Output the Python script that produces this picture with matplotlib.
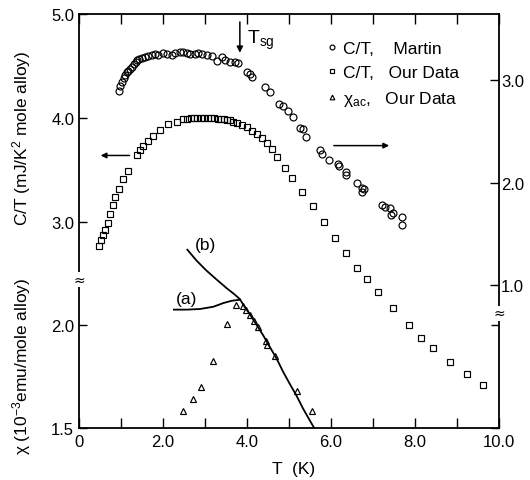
import matplotlib
matplotlib.use("Agg")
import matplotlib.pyplot as plt

plt.rcParams['font.family'] = ['Liberation Sans', 'DejaVu Sans']
plt.rcParams['mathtext.default'] = 'regular'

# C/T, our data (left upper scale)
sq_T = [0.48, 0.52, 0.58, 0.62, 0.68, 0.74, 0.80, 0.86, 0.96, 1.04, 1.16,
        1.37, 1.45, 1.53, 1.65, 1.77, 1.93, 2.13, 2.34, 2.48,
        2.58, 2.66, 2.74, 2.82, 2.90, 2.98, 3.06, 3.14, 3.22, 3.30, 3.38,
        3.46, 3.53, 3.60, 3.67, 3.75, 3.87, 3.99, 4.11, 4.23, 4.35, 4.47,
        4.60, 4.71, 4.90, 5.08, 5.31, 5.56, 5.83, 6.09, 6.36, 6.63, 6.86,
        7.11, 7.48, 7.86, 8.14, 8.43, 8.83, 9.24, 9.62]
sq_ct = [2.77, 2.83, 2.875, 2.92, 2.99, 3.08, 3.16, 3.24, 3.32, 3.41, 3.49,
         3.64, 3.69, 3.73, 3.78, 3.83, 3.885, 3.94, 3.965, 3.99,
         3.995, 4.0, 4.0, 4.0, 4.0, 4.0, 4.0, 4.0, 4.0, 3.995, 3.99,
         3.99, 3.985, 3.98, 3.965, 3.95, 3.93, 3.91, 3.88, 3.845, 3.805, 3.76,
         3.70, 3.625, 3.52, 3.42, 3.29, 3.15, 3.00, 2.85, 2.70, 2.56, 2.45,
         2.33, 2.17, 2.01, 1.89, 1.79, 1.65, 1.54, 1.43]

# C/T, Martin (right scale)
mt_T = [0.96, 0.98, 1.02, 1.06, 1.10, 1.135, 1.17, 1.21, 1.25, 1.31, 1.36,
        1.39, 1.44, 1.49, 1.57, 1.65, 1.73, 1.81, 1.89, 2.01, 2.09, 2.21,
        2.29, 2.40, 2.48, 2.56, 2.64, 2.76, 2.84, 2.92, 3.04, 3.16, 3.28,
        3.40, 3.48, 3.60, 3.71, 3.79, 3.99, 4.07, 4.13, 4.43, 4.55, 4.77,
        4.86, 4.98, 5.09, 5.25, 5.34, 5.40, 5.74, 5.78, 5.96, 6.17, 6.20,
        6.36, 6.36, 6.63, 6.73, 6.79, 6.73, 7.21, 7.29, 7.40, 7.47, 7.42,
        7.68, 7.70]
mt_ct = [2.896, 2.944, 2.98, 3.016, 3.05, 3.075, 3.09, 3.11, 3.13, 3.156,
         3.18, 3.20, 3.205, 3.21, 3.22, 3.23, 3.24, 3.25, 3.24, 3.26, 3.25,
         3.24, 3.26, 3.276, 3.27, 3.26, 3.25, 3.25, 3.26, 3.25, 3.24, 3.23,
         3.19, 3.22, 3.20, 3.18, 3.18, 3.17, 3.075, 3.06, 3.03, 2.93, 2.886,
         2.766, 2.75, 2.70, 2.636, 2.53, 2.52, 2.44, 2.32, 2.28, 2.22, 2.18,
         2.16, 2.10, 2.07, 2.00, 1.95, 1.94, 1.91, 1.78, 1.76, 1.75, 1.70,
         1.68, 1.66, 1.59]

# chi_ac, our data (left lower scale)
tr_T = [2.48, 2.72, 2.90, 3.18, 3.53, 3.74, 3.90, 3.98, 4.07, 4.17, 4.25,
        4.45, 4.48, 4.67, 5.18, 5.54]
tr_chi = [1.584, 1.640, 1.70, 1.823, 2.003, 2.095, 2.092, 2.073, 2.047,
          2.02, 1.99, 1.92, 1.90, 1.85, 1.68, 1.58]

# curves (a) and (b)
a_T = [2.26, 2.56, 2.88, 3.20, 3.44, 3.64, 3.83]
a_chi = [2.073, 2.073, 2.076, 2.087, 2.105, 2.116, 2.121]
b_T = [2.58, 2.80, 3.04, 3.28, 3.52, 3.69, 3.83, 3.95, 4.07, 4.23, 4.39,
       4.55, 4.71, 4.86, 5.02, 5.18, 5.34, 5.50, 5.60]
b_chi = [2.363, 2.31, 2.261, 2.218, 2.176, 2.149, 2.124, 2.084, 2.05,
         1.999, 1.947, 1.89, 1.834, 1.772, 1.713, 1.656, 1.592, 1.535, 1.50]

t_sg = 3.83
x_ticks = list(range(0, 11))
x_labels = ['0', '', '2.0', '', '4.0', '', '6.0', '', '8.0', '', '10.0']

fs = 12.5
tfs = 12
fig = plt.figure(figsize=(5.30, 4.81), dpi=100)
rect = [79 / 530, 1 - 429 / 481, 420 / 530, 414 / 481]

ax = fig.add_axes(rect)
axr = fig.add_axes(rect, sharex=ax)
axc = fig.add_axes(rect, sharex=ax)
for a in (axr, axc):
    a.set_frame_on(False)
    a.patch.set_visible(False)
    a.tick_params(axis='x', which='both', bottom=False, top=False,
                  labelbottom=False, labeltop=False)

mk = dict(linestyle='none', markerfacecolor='none', markeredgecolor='black',
          markeredgewidth=0.85)
h_sq, = ax.plot(sq_T, sq_ct, marker='s', markersize=4.4, **mk)
h_mt, = axr.plot(mt_T, mt_ct, marker='o', markersize=5.0, **mk)
h_tr, = axc.plot(tr_T, tr_chi, marker='^', markersize=4.8, **mk)
axc.plot(a_T, a_chi, color='black', lw=1.3)
axc.plot(b_T, b_chi, color='black', lw=1.3)

ax.set_xlim(0, 10)
ax.set_ylim(1.02, 5.0)
axr.set_ylim(-0.395, 3.644)
axc.set_ylim(1.5, 3.504)

for s in ax.spines.values():
    s.set_linewidth(1.3)

ax.set_xticks(x_ticks)
ax.set_xticklabels(x_labels)
ax.tick_params(axis='x', direction='in', top=True, length=7, width=1,
               labelsize=tfs, pad=4)
ax.set_yticks([3.0, 4.0, 5.0])
ax.set_yticklabels(['3.0', '4.0', '5.0'])
ax.tick_params(axis='y', direction='in', length=6, width=1, labelsize=tfs)

axr.yaxis.tick_right()
axr.set_yticks([1.0, 2.0, 3.0])
axr.set_yticklabels(['1.0', '2.0', '3.0'])
axr.tick_params(axis='y', direction='in', length=6.5, width=1,
                labelsize=tfs, pad=1.5)

axc.set_yticks([1.5, 2.0])
axc.set_yticklabels(['1.5', '2.0'])
axc.yaxis.set_ticks_position('both')
axc.tick_params(axis='y', direction='in', length=6, width=1,
                labelsize=tfs, labelright=False)

# axis breaks
ax.text(0, 0.359, '\u2248', transform=ax.transAxes, ha='center',
        va='center', fontsize=10, family='DejaVu Sans',
        bbox=dict(fc='white', ec='none', pad=0.2))
ax.text(1, 0.277, '\u2248', transform=ax.transAxes, ha='center',
        va='center', fontsize=10, family='DejaVu Sans',
        bbox=dict(fc='white', ec='none', pad=0.2))

# T_sg arrow
ax.annotate('', xy=(t_sg, 4.60), xytext=(t_sg, 4.95),
            arrowprops=dict(arrowstyle='-|>', color='black', lw=1.1,
                            mutation_scale=9))
ax.text(t_sg + 0.17, 4.76, 'T$_{sg}$', fontsize=fs + 1.5, va='center',
        ha='left')

# direction arrows
ax.annotate('', xy=(0.45, 3.64), xytext=(1.27, 3.64),
            arrowprops=dict(arrowstyle='-|>', color='black', lw=1.1,
                            mutation_scale=8))
axr.annotate('', xy=(7.45, 2.36), xytext=(6.0, 2.36),
             arrowprops=dict(arrowstyle='-|>', color='black', lw=1.1,
                             mutation_scale=8))

axc.text(2.55, 2.125, '(a)', fontsize=fs, ha='center', va='center')
axc.text(3.0, 2.39, '(b)', fontsize=fs, ha='center', va='center')

leg = ax.legend([h_mt, h_sq, h_tr],
                ['C/T,    Martin', 'C/T,   Our Data',
                 '\u03c7$_{ac}$,   Our Data'],
                loc='upper left', bbox_to_anchor=(0.572, 0.955),
                frameon=False, fontsize=fs, handlelength=0.5,
                handletextpad=0.35, labelspacing=0.5, borderpad=0,
                markerscale=0.7)

fig.text(0.0415, 0.713, 'C/T (mJ/K$^{2}$ mole alloy)', rotation=90,
         ha='center', va='center', fontsize=fs)
fig.text(0.0415, 0.239, '\u03c7 (10$^{-3}$emu/mole alloy)', rotation=90,
         ha='center', va='center', fontsize=fs)
fig.text(0.553, 0.0229, 'T  (K)', ha='center', va='center', fontsize=fs)

fig.savefig('out.png', dpi=100)
